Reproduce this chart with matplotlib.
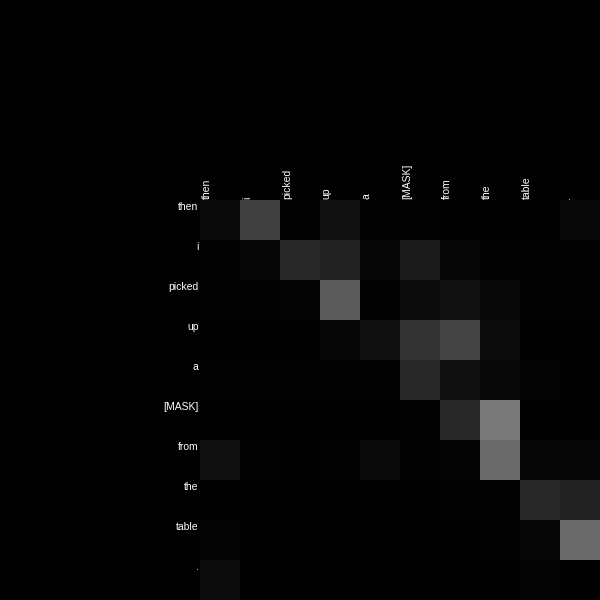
import numpy as np
import matplotlib
matplotlib.use("Agg")
import matplotlib.pyplot as plt

tokens = ["then", "i", "picked", "up", "a", "[MASK]", "from", "the", "table", "."]

# attention intensities (0-255 gray levels), rows = query token
attn = [
    [10, 64, 2, 18, 2, 2, 1, 1, 1, 8],
    [2, 7, 39, 34, 7, 26, 6, 2, 3, 2],
    [2, 2, 5, 90, 3, 11, 18, 8, 2, 2],
    [1, 1, 1, 6, 15, 51, 68, 12, 1, 1],
    [2, 2, 2, 2, 2, 39, 16, 8, 4, 1],
    [1, 1, 1, 1, 1, 3, 39, 120, 1, 1],
    [16, 2, 1, 2, 10, 2, 5, 106, 6, 6],
    [1, 1, 1, 1, 1, 1, 3, 2, 40, 35],
    [5, 1, 1, 1, 1, 1, 1, 3, 7, 106],
    [11, 1, 1, 1, 1, 1, 1, 1, 4, 1],
]

plt.rcParams['font.family'] = ['Liberation Sans', 'DejaVu Sans']

fig = plt.figure(figsize=(6, 6), dpi=100, facecolor="black")
ax = fig.add_axes([200/600, 0, 400/600, 400/600])
ax.set_facecolor("black")

data = np.array(attn, dtype=float) / 255.0
n = len(tokens)
ax.pcolormesh(np.arange(n + 1), np.arange(n + 1), data, cmap="gray",
              vmin=0, vmax=1, shading="flat")
ax.set_xlim(0, n)
ax.set_ylim(n, 0)

for s in ax.spines.values():
    s.set_visible(False)

ax.xaxis.tick_top()
ax.set_xticks(np.arange(n) + 0.17)
ax.set_xticklabels(tokens, rotation=90, color="white", fontsize=7.5,
                   ha="center", va="bottom")
ax.set_yticks(np.arange(n) + 0.17)
ax.set_yticklabels(tokens, color="white", fontsize=7.5, ha="right", va="center")
ax.tick_params(axis="both", length=0, pad=1)

fig.savefig("out.png", dpi=100, facecolor="black")
